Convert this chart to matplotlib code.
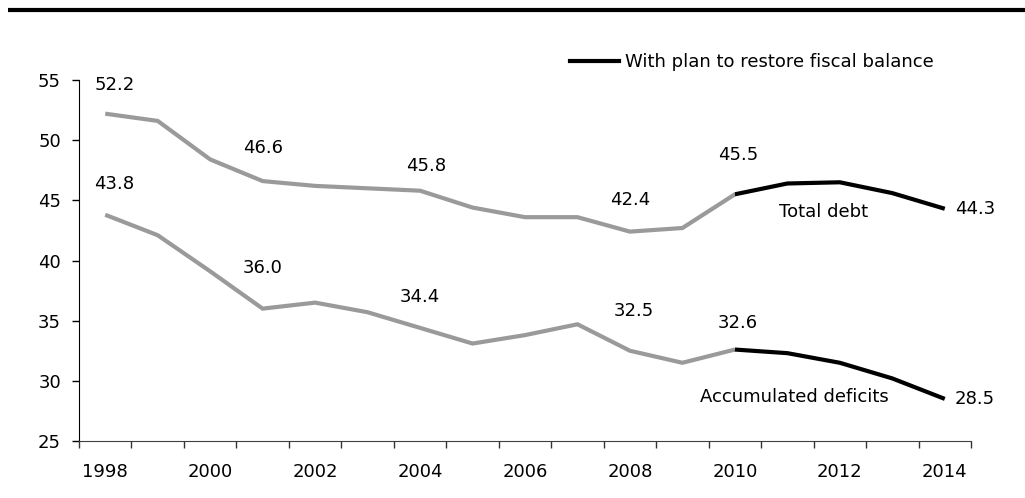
import matplotlib.pyplot as plt
from matplotlib.lines import Line2D

plt.rcParams["font.family"] = ["DejaVu Sans"]
plt.rcParams["font.size"] = 13

years = list(range(1998, 2015))
tick_years = ["1998", "2000", "2002", "2004", "2006", "2008", "2010", "2012", "2014"]

total_debt = [52.2, 51.6, 48.4, 46.6, 46.2, 46.0, 45.8, 44.4, 43.6, 43.6,
              42.4, 42.7, 45.5, 46.4, 46.5, 45.6, 44.3]
accum_deficits = [43.8, 42.1, 39.1, 36.0, 36.5, 35.7, 34.4, 33.1, 33.8, 34.7,
                  32.5, 31.5, 32.6, 32.3, 31.5, 30.2, 28.5]

# first projected year (plan to restore fiscal balance)
plan_start = 2010

# labelled points: (year, dx px, dy px)
debt_labels = [(1998, 9, 29), (2001, 0, 33), (2004, 6, 25),
               (2008, 0, 32), (2010, 3, 39)]
deficit_labels = [(1998, 9, 31), (2001, 0, 41), (2004, 0, 31),
                  (2008, 4, 40), (2010, 3, 27)]

GREY = "#9a9a9a"

fig = plt.figure(figsize=(10.25, 4.98), dpi=100)
ax = fig.add_axes([79 / 1025, 57 / 498, 892 / 1025, (441 - 80) / 498])

x = list(range(len(years)))
k = years.index(plan_start)

for series in (total_debt, accum_deficits):
    ax.plot(x[:k + 1], series[:k + 1], color=GREY, lw=3.0,
            solid_joinstyle="miter", solid_capstyle="butt")
    ax.plot(x[k:], series[k:], color="black", lw=3.0,
            solid_joinstyle="miter", solid_capstyle="butt")

for series, labels in ((total_debt, debt_labels), (accum_deficits, deficit_labels)):
    for yr, dx, dy in labels:
        i = years.index(yr)
        ax.annotate(f"{series[i]:.1f}", (x[i], series[i]), xytext=(dx, dy),
                    textcoords="offset pixels", ha="center", va="center")
    ax.annotate(f"{series[-1]:.1f}", (x[-1], series[-1]), xytext=(10, 0),
                textcoords="offset pixels", ha="left", va="center")

ax.annotate("Total debt", (x[13], total_debt[13]), xytext=(36, -29),
            textcoords="offset pixels", ha="center", va="center")
ax.annotate("Accumulated deficits", (x[13], accum_deficits[13]), xytext=(7, -44),
            textcoords="offset pixels", ha="center", va="center")

ax.set_xlim(-0.5, len(years) - 0.5)
ax.set_ylim(25, 55)
ax.set_yticks([25, 30, 35, 40, 45, 50, 55])

ax.set_xticks(x[::2])
ax.set_xticklabels(tick_years)
ax.set_xticks([i - 0.5 for i in range(len(years) + 1)], minor=True)
ax.tick_params(axis="x", which="major", length=0, pad=16)
ax.tick_params(axis="x", which="minor", length=5, width=1, color="#333333")
ax.tick_params(axis="y", length=5, width=1, pad=8)

for side in ("top", "right"):
    ax.spines[side].set_visible(False)
ax.spines["bottom"].set_color("#404040")
ax.spines["left"].set_color("black")

handle = Line2D([], [], color="black", lw=3.0)
fig.legend([handle], ["With plan to restore fiscal balance"], loc="center left",
           bbox_to_anchor=(570 / 1025, 1 - 62 / 498), frameon=False,
           borderpad=0, borderaxespad=0, handlelength=2.7, handletextpad=0.35)

# heavy rule across the top
fig.add_artist(Line2D([8 / 1025, 1], [1 - 10 / 498, 1 - 10 / 498],
                      color="black", lw=3.0, solid_capstyle="butt"))

fig.savefig("out.png", dpi=100)
